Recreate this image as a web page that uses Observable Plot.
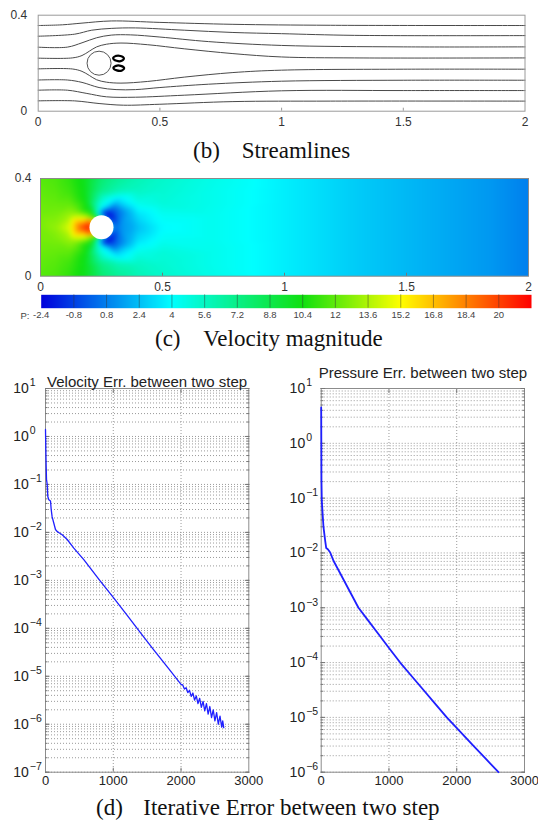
<!DOCTYPE html>
<html><head><meta charset="utf-8">
<script src="https://cdn.jsdelivr.net/npm/d3@7"></script>
<script src="https://cdn.jsdelivr.net/npm/@observablehq/plot@0.6"></script>
<style>
body{margin:0;background:#fff;}
#page{position:relative;width:538px;height:820px;overflow:hidden;background:#fff;}
.panel{position:absolute;}
.cap{position:absolute;font-family:"Liberation Serif","Times New Roman",serif;font-size:23px;line-height:23px;color:#111;white-space:nowrap;}
</style></head><body>
<div id="page">
  <div class="panel" id="b" style="left:0;top:0"></div>
  <div class="panel" id="c" style="left:0;top:165px"></div>
  <div class="panel" id="cb" style="left:0;top:292px"></div>
  <div class="panel" id="dl" style="left:0;top:360px"></div>
  <div class="panel" id="dr" style="left:268px;top:360px"></div>
  <div class="cap" style="left:193px;top:138.7px">(b)</div>
  <div class="cap" style="left:241.7px;top:138.7px">Streamlines</div>
  <div class="cap" style="left:155px;top:326.7px">(c)</div>
  <div class="cap" style="left:203.3px;top:326.7px">Velocity magnitude</div>
  <div class="cap" style="left:96px;top:795.5px">(d)</div>
  <div class="cap" style="left:143.3px;top:795.5px">Iterative Error between two step</div>
</div>
<script>
const SANS = "'Liberation Sans', Arial, Helvetica, sans-serif";

// ---------- (b) streamlines ----------
const domainXTicks = [0, 0.5, 1, 1.5, 2];
const domainYTicks = [0, 0.4];
const cylinder = {x: 0.25, y: 0.2};
const streamlines = [
  [[0,0.357],[0.1,0.36],[0.18,0.367],[0.3,0.376],[0.5,0.370],[0.8,0.362],[1.2,0.358],[2,0.357]],
  [[0,0.3125],[0.15,0.321],[0.22,0.3375],[0.3,0.345],[0.4,0.347],[0.6,0.3375],[0.8,0.328],[1.0,0.323],[1.3,0.316],[2,0.315]],
  [[0,0.2667],[0.12,0.267],[0.18,0.285],[0.24,0.306],[0.3,0.317],[0.38,0.318],[0.5,0.309],[0.7,0.29],[1.0,0.274],[1.5,0.268],[2,0.268]],
  [[0,0.221],[0.14,0.222],[0.18,0.232],[0.21,0.25],[0.24,0.268],[0.28,0.279],[0.34,0.284],[0.45,0.277],[0.6,0.26],[0.8,0.24],[1.0,0.226],[1.3,0.222],[2,0.222]],
  [[0,0.1764],[0.14,0.176],[0.18,0.166],[0.21,0.149],[0.24,0.131],[0.28,0.121],[0.34,0.117],[0.45,0.124],[0.6,0.142],[0.8,0.161],[1.0,0.171],[1.5,0.175],[2,0.175]],
  [[0,0.130],[0.12,0.13],[0.18,0.12],[0.25,0.0986],[0.32,0.09],[0.4,0.09],[0.5,0.0986],[0.7,0.1125],[1.0,0.125],[1.5,0.129],[2,0.129]],
  [[0,0.0875],[0.12,0.0875],[0.2,0.074],[0.28,0.06],[0.4,0.0583],[0.6,0.0667],[1.0,0.085],[1.5,0.086],[2,0.086]],
  [[0,0.0431],[0.15,0.043],[0.25,0.032],[0.35,0.025],[0.5,0.029],[0.8,0.040],[1.2,0.042],[2,0.042]]
];
const eddies = [
  [[0.308,0.221],[0.319,0.230],[0.338,0.230],[0.352,0.221],[0.343,0.210],[0.322,0.210]],
  [[0.309,0.180],[0.320,0.189],[0.339,0.189],[0.353,0.180],[0.344,0.170],[0.323,0.170]]
];

// ---------- (c) pressure field samples ----------
const fieldXs = [0,0.06,0.12,0.18,0.25,0.32,0.4,0.5,0.7,1.0,1.3,1.6,1.85,2.0];
const fieldYs = [0.4,0.35,0.3,0.25,0.2,0.15,0.1,0.05,0];
const fieldP = [
  [11.8,11.6,11.0,10.1,7.8,6.8,6.0,5.4,4.6,3.6,2.7,2.0,1.4,0.8],
  [12.0,11.8,11.3,10.2,7.2,6.0,5.6,5.2,4.5,3.6,2.7,2.0,1.4,0.8],
  [12.2,12.1,12.0,null,null,null,4.6,5.0,4.5,3.6,2.7,2.0,1.4,0.8],
  [12.4,12.5,13.2,null,null,null,3.2,4.3,4.4,3.6,2.7,2.0,1.4,0.8],
  [12.5,13.0,null,null,null,null,2.4,3.9,4.4,3.6,2.7,2.0,1.4,0.8],
  [12.4,12.5,13.2,null,null,null,3.2,4.3,4.4,3.6,2.7,2.0,1.4,0.8],
  [12.2,12.1,12.0,null,null,null,4.6,5.0,4.5,3.6,2.7,2.0,1.4,0.8],
  [12.0,11.8,11.3,10.2,7.2,6.0,5.6,5.2,4.5,3.6,2.7,2.0,1.4,0.8],
  [11.8,11.6,11.0,10.1,7.8,6.8,6.0,5.4,4.6,3.6,2.7,2.0,1.4,0.8]
];
const ringX = [0.198,0.205,0.224,0.25,0.276,0.295,0.302,0.295,0.276,0.25,0.224,0.205,
               0.263,0.297,0.297,0.263,
               0.17,0.181,0.21,0.25,0.29,0.319,0.33,0.319,0.29,0.25,0.21,0.181,
               0.12,0.137,0.185,0.25,0.315,0.363,0.38,0.363,0.315,0.25,0.185,0.137];
const ringY = [0.2,0.226,0.245,0.252,0.245,0.226,0.2,0.174,0.155,0.148,0.155,0.174,
               0.262,0.245,0.155,0.138,
               0.2,0.24,0.269,0.28,0.269,0.24,0.2,0.16,0.131,0.12,0.131,0.16,
               0.2,0.265,0.313,0.33,0.313,0.265,0.2,0.135,0.087,0.07,0.087,0.135];
const ringP = [21.5,19,10,0.5,-2.4,-1.2,0.8,-1.2,-2.4,0.5,10,19,
               -1.6,-1.8,-1.8,-1.6,
               20,14.5,9.5,4,-0.6,0.4,1.3,0.4,-0.6,4,9.5,14.5,
               14.6,12.6,10.2,6.0,3.2,2.1,1.9,2.1,3.2,6.0,10.2,12.6];
const cbTicks = [-2.4,-0.8,0.8,2.4,4,5.6,7.2,8.8,10.4,12,13.6,15.2,16.8,18.4,20];
const cbDomain = [-2.4, 21.6];

// ---------- (d) iterative errors ----------
const iterTicks = [0, 1000, 2000, 3000];
const velExp = [1,0,-1,-2,-3,-4,-5,-6,-7];
const presExp = [1,0,-1,-2,-3,-4,-5,-6];
const velIter = [0,5,10,15,25,34,49,74,84,98,123,147,170,200,246,320,418,565,800,1000,1200,1400,1600,1800,2000,
  2025,2050,2075,2100,2125,2150,2175,2200,2225,2250,2275,2300,2325,2350,2375,2400,2425,2450,2475,2500,2525,2550,2575,2600,2615,2630];
const velErr = [1.4,0.52,0.24,0.126,0.1,0.056,0.048,0.045,0.03,0.021,0.0155,0.0115,0.0105,0.0098,0.0089,0.0071,0.0047,0.0027,0.001,4.4e-4,1.9e-4,8.1e-5,3.5e-5,1.55e-5,6.8e-6,
  6.6e-6,5.4e-6,5.75e-6,4.57e-6,5.1e-6,3.8e-6,4.47e-6,3.2e-6,3.9e-6,2.7e-6,3.47e-6,2.24e-6,3.0e-6,1.9e-6,2.7e-6,1.62e-6,2.34e-6,1.38e-6,2.0e-6,1.17e-6,1.74e-6,1.0e-6,1.48e-6,8.7e-7,1.17e-6,8.5e-7];
const presIter = [0,4,9,24,34,59,74,98,133,181,260,350,450,550,700,850,1000,1165,1330,1500,1680,1853,2040,2230,2420,2616];
const presErr = [4.5,0.21,0.089,0.045,0.0295,0.0166,0.0123,0.0117,0.0102,0.0072,0.00474,0.00292,0.00171,0.001,5.7e-4,3.25e-4,1.85e-4,1e-4,5.75e-5,3.26e-5,1.78e-5,1e-5,5.7e-6,3.2e-6,1.8e-6,1e-6];

// ---------- build tables ----------
const streamRows = streamlines.flatMap((pts, i) => pts.map(([x, y]) => ({id: i, x, y})));
const eddyRows = eddies.flatMap((pts, i) => pts.map(([x, y]) => ({id: i, x, y})));
const fieldRows = [];
fieldYs.forEach((y, i) => fieldXs.forEach((x, j) => { const p = fieldP[i][j]; if (p !== null) fieldRows.push({x, y, p}); }));
ringX.forEach((x, k) => fieldRows.push({x, y: ringY[k], p: ringP[k]}));
const velRows = velIter.map((t, i) => ({t, e: velErr[i]}));
const presRows = presIter.map((t, i) => ({t, e: presErr[i]}));

const colorScale = {type: "linear", domain: [-2.4, 4, 10.4, 15.2, 21.6],
  range: ["#0000dc", "#00ffff", "#10e010", "#ffff00", "#ff0000"], clamp: true};
const baseStyle = {fontFamily: SANS, background: "transparent"};

// (b)
const chartB = Plot.plot({
  width: 538, height: 135,
  marginLeft: 37.7, marginRight: 13.5, marginTop: 14.7, marginBottom: 24.3,
  style: baseStyle,
  x: {domain: [0, 2]}, y: {domain: [0, 0.4]},
  marks: [
    Plot.line(streamRows, {x: "x", y: "y", z: "id", curve: "catmull-rom", stroke: "#4a4a4a", strokeWidth: 1}),
    Plot.frame({stroke: "#9a9a9a"}),
    Plot.dot([cylinder], {x: "x", y: "y", r: 12, stroke: "#555", strokeWidth: 1, fill: "white"}),
    Plot.line(eddyRows, {x: "x", y: "y", z: "id", curve: "catmull-rom-closed", stroke: "#000", strokeWidth: 2.2}),
    Plot.axisX({ticks: domainXTicks.slice(1, -1), tickSize: -3, tickFormat: () => "", stroke: "#999", label: null}),
    Plot.axisX({ticks: domainXTicks, tickSize: 0, tickPadding: 6, fontSize: 12, fill: "#333", tickFormat: d => String(d), label: null}),
    Plot.axisY({ticks: domainYTicks, tickSize: 0, tickPadding: 11, fontSize: 12, fill: "#333", tickFormat: d => String(d), label: null})
  ]
});
document.getElementById("b").append(chartB);

// (c)
const chartC = Plot.plot({
  width: 538, height: 129,
  marginLeft: 40, marginRight: 10, marginTop: 13, marginBottom: 18.3,
  style: baseStyle,
  x: {domain: [0, 2]}, y: {domain: [0, 0.4]},
  color: colorScale,
  marks: [
    Plot.raster(fieldRows, {x: "x", y: "y", fill: "p", interpolate: "barycentric", blur: 2}),
    Plot.dot([cylinder], {x: "x", y: "y", r: 12, fill: "white"}),
    Plot.frame({stroke: "#8a8a8a"}),
    Plot.axisX({ticks: domainXTicks.slice(1, -1), tickSize: -3, tickFormat: () => "", stroke: "#777", label: null}),
    Plot.axisX({ticks: domainXTicks, tickSize: 0, tickPadding: 6.5, fontSize: 12, fill: "#333", tickFormat: d => String(d), label: null}),
    Plot.axisY({ticks: domainYTicks, tickSize: 0, tickPadding: 9, fontSize: 12, fill: "#333", tickFormat: d => String(d), label: null})
  ]
});
document.getElementById("c").append(chartC);

// colour bar
const chartCB = Plot.plot({
  width: 538, height: 30,
  marginLeft: 40.7, marginRight: 7, marginTop: 2.3, marginBottom: 14.3,
  style: baseStyle,
  x: {domain: cbDomain}, y: {domain: [0, 1], axis: null},
  color: colorScale,
  marks: [
    Plot.raster({x1: cbDomain[0], x2: cbDomain[1], y1: 0, y2: 1, fill: (x, y) => x}),
    Plot.ruleX(cbTicks.slice(1), {stroke: "#333", strokeOpacity: 0.45}),
    Plot.axisX({ticks: cbTicks, tickSize: 0, tickPadding: 3, fontSize: 9.5, fill: "#444", tickFormat: d => String(d), label: null}),
    Plot.text(["P:"], {frameAnchor: "bottom-left", dx: -20.7, dy: 7.5, textAnchor: "start", lineAnchor: "middle", fontSize: 9.5, fill: "#444"})
  ]
});
document.getElementById("cb").append(chartCB);

// (d)
const expText = e => e < 0 ? "\u2212" + (-e) : String(e);
function errChart({rows, exps, title, width, marginLeft, marginRight, titleDy, labelDx, strokeWidth}) {
  const lo = 10 ** exps[exps.length - 1], hi = 10 ** exps[0];
  const minor = d3.scaleLog().domain([lo, hi]).ticks();
  const major = exps.map(e => 10 ** e);
  return Plot.plot({
    width, height: 432,
    marginLeft, marginRight, marginTop: 28, marginBottom: 20.3,
    style: baseStyle,
    x: {domain: [0, 3000]}, y: {type: "log", domain: [lo, hi]},
    marks: [
      Plot.gridY({ticks: minor, stroke: "#9a9a9a", strokeOpacity: 1, strokeDasharray: "1,2"}),
      Plot.gridX({ticks: iterTicks.slice(1, -1), stroke: "#9a9a9a", strokeOpacity: 1, strokeDasharray: "1,2"}),
      Plot.frame({stroke: "#8c8c8c"}),
      Plot.axisY({anchor: "left", ticks: minor, tickSize: -2.5, tickFormat: () => "", stroke: "#777", label: null}),
      Plot.axisY({anchor: "right", ticks: minor, tickSize: -2.5, tickFormat: () => "", stroke: "#777", label: null}),
      Plot.axisY({anchor: "left", ticks: major, tickSize: -4.5, tickFormat: () => "", stroke: "#777", label: null}),
      Plot.axisY({anchor: "right", ticks: major, tickSize: -4.5, tickFormat: () => "", stroke: "#777", label: null}),
      Plot.axisX({anchor: "bottom", ticks: iterTicks.slice(1, -1), tickSize: -4, tickFormat: () => "", stroke: "#777", label: null}),
      Plot.axisX({anchor: "top", ticks: iterTicks.slice(1, -1), tickSize: -4, tickFormat: () => "", stroke: "#777", label: null}),
      Plot.line(rows, {x: "t", y: "e", stroke: "#1f1fff", strokeWidth}),
      Plot.axisX({anchor: "bottom", ticks: iterTicks, tickSize: 0, tickPadding: 4, fontSize: 13, fill: "#222", tickFormat: d => String(d), label: null}),
      Plot.text(exps, {y: e => 10 ** e, text: () => "10", frameAnchor: "left", dx: labelDx, textAnchor: "end", fontSize: 14, fill: "#222"}),
      Plot.text(exps, {y: e => 10 ** e, text: expText, frameAnchor: "left", dx: labelDx + 1, dy: -5.5, textAnchor: "start", fontSize: 10.5, fill: "#222"}),
      Plot.text([title], {frameAnchor: "top", dy: titleDy, lineAnchor: "middle", fontSize: 15, fill: "#222"})
    ]
  });
}
document.getElementById("dl").append(errChart({
  rows: velRows, exps: velExp, title: "Velocity Err. between two step",
  width: 268, marginLeft: 45, marginRight: 19.7, titleDy: -6.5, labelDx: -16.7, strokeWidth: 1.3
}));
document.getElementById("dr").append(errChart({
  rows: presRows, exps: presExp, title: "Pressure Err. between two step",
  width: 270, marginLeft: 52.7, marginRight: 14, titleDy: -15, labelDx: -16, strokeWidth: 1.8
}));
</script>
</body></html>
